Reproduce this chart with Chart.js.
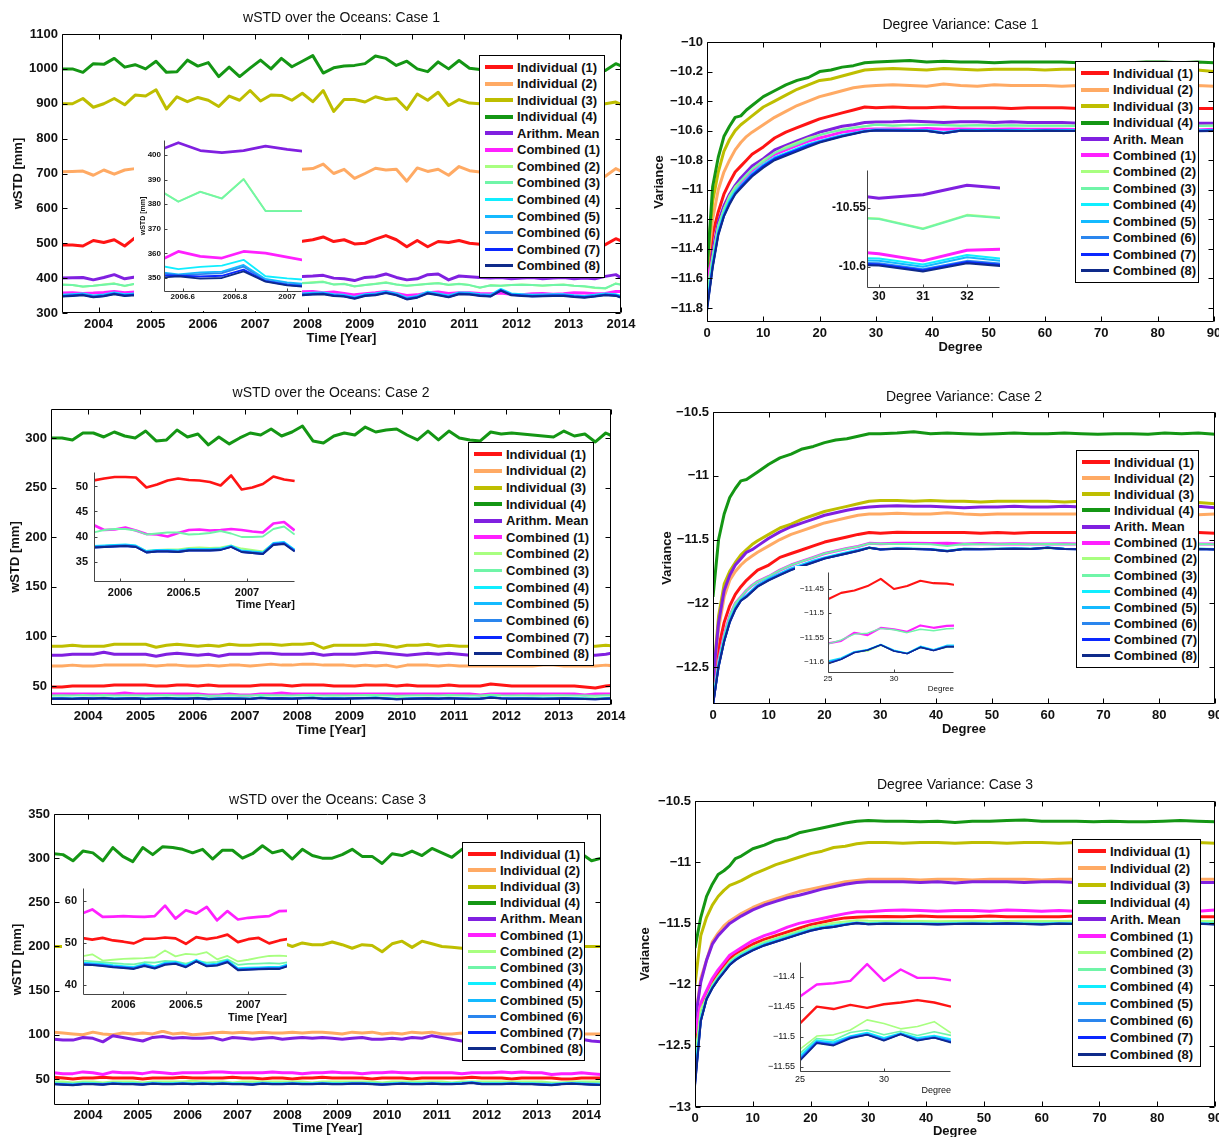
<!DOCTYPE html>
<html>
<head>
<meta charset="utf-8">
<title>wSTD over the Oceans / Degree Variance</title>
<script src="https://cdn.jsdelivr.net/npm/chart.js@4.4.1/dist/chart.umd.min.js"></script>
<style>
html, body { margin: 0; padding: 0; overflow: hidden; background: #fff; }
body { position: relative; width: 1219px; height: 1137px; }
</style>
</head>
<body>
<script>
// ---------- data ----------
const NAMES_L = ['Individual (1)', 'Individual (2)', 'Individual (3)', 'Individual (4)', 'Arithm. Mean',
    'Combined (1)', 'Combined (2)', 'Combined (3)', 'Combined (4)', 'Combined (5)', 'Combined (6)', 'Combined (7)', 'Combined (8)'];
const NAMES_R = ['Individual (1)', 'Individual (2)', 'Individual (3)', 'Individual (4)', 'Arith. Mean',
    'Combined (1)', 'Combined (2)', 'Combined (3)', 'Combined (4)', 'Combined (5)', 'Combined (6)', 'Combined (7)', 'Combined (8)'];

const tYears = [2003.3, 2003.5, 2003.7, 2003.9, 2004.1, 2004.3, 2004.5, 2004.7,
    2004.9, 2005.1, 2005.3, 2005.5, 2005.7, 2005.9, 2006.1, 2006.3,
    2006.5, 2006.7, 2006.9, 2007.1, 2007.3, 2007.5, 2007.7, 2007.9,
    2008.1, 2008.3, 2008.5, 2008.7, 2008.9, 2009.1, 2009.3, 2009.5,
    2009.7, 2009.9, 2010.1, 2010.3, 2010.5, 2010.7, 2010.9, 2011.1,
    2011.3, 2011.5, 2011.7, 2011.9, 2012.1, 2012.3, 2012.5, 2012.7,
    2012.9, 2013.1, 2013.3, 2013.5, 2013.7, 2013.9, 2014.1, 2014.3];
const dDeg = [0, 1, 2, 3, 4, 5, 6, 7, 8, 10, 12, 14, 16, 18, 20, 22, 24, 26, 28, 30,
    33, 36, 39, 42, 45, 48, 51, 54, 57, 60, 63, 66, 69, 72, 75, 78, 81, 84, 87, 90];

const yearTicks = [2004, 2005, 2006, 2007, 2008, 2009, 2010, 2011, 2012, 2013, 2014];
const degTicks = [0, 10, 20, 30, 40, 50, 60, 70, 80, 90];
const ts1YTicks = [300, 400, 500, 600, 700, 800, 900, 1000, 1100];
const ts2YTicks = [50, 100, 150, 200, 250, 300];
const ts3YTicks = [50, 100, 150, 200, 250, 300, 350];
const dv1YTicks = [-10, -10.2, -10.4, -10.6, -10.8, -11, -11.2, -11.4, -11.6, -11.8];
const dv2YTicks = [-10.5, -11, -11.5, -12, -12.5];
const dv3YTicks = [-10.5, -11, -11.5, -12, -12.5, -13];

// wSTD case 1
const ts1Ind1 = [495,495,492,508,502,510,492,516, 516,505,500,504,498,506,500,504, 498,502,500,504,500,502,504,506, 510,518,505,510,498,500,512,522, 510,490,508,490,505,502,508,500, 497,500,498,496,500,498,500,496, 498,500,495,497,496,513,500,500];
const ts1Ind2 = [705,706,707,695,710,698,710,714, 712,708,700,710,704,700,708,712, 705,702,708,710,704,700,708,712, 714,727,700,712,686,700,715,710, 712,678,716,706,712,695,720,708, 704,700,706,702,708,704,700,706, 702,705,700,703,692,714,700,700];
const ts1Ind3 = [900,900,915,890,900,915,897,925, 922,940,885,920,906,918,910,892, 922,910,938,908,925,924,910,930, 906,938,878,912,912,905,920,912, 915,884,928,910,933,895,912,902, 900,905,898,902,899,904,900,897, 902,899,903,900,900,905,892,895];
const ts1Ind4 = [1000,1000,990,1015,1013,1030,1005,1012, 1000,1022,990,992,1025,1008,1018,978, 1005,978,1002,1025,1000,1030,1006,1022, 1038,988,1003,1008,1010,1015,1037,1030, 1010,1022,1000,992,1020,1000,1024,1002, 998,1004,995,1003,1000,1005,998,1002, 996,1003,998,994,995,1015,1002,1000];
const ts1Mean = [400,401,402,395,402,410,398,403, 402,400,404,400,402,405,400,402, 400,402,398,400,402,404,400,405, 406,408,400,398,393,402,404,412, 402,395,398,410,412,395,406,404, 402,400,402,398,400,402,398,400, 402,398,400,398,405,410,392,390];
const ts1C1 = [357,358,356,357,359,362,358,360, 358,360,358,359,360,358,359,360, 361,360,361,360,359,358,360,361, 362,358,360,356,352,355,358,362, 356,350,352,358,360,356,358,358, 356,355,357,354,352,355,356,354, 355,358,357,355,356,362,362,360];
const ts1C2 = [382,380,375,378,382,385,377,384, 380,382,384,380,378,382,380,380, 382,380,384,380,382,385,380,386, 388,390,382,384,376,380,384,388, 382,378,380,384,386,380,384,380, 372,380,378,380,382,380,378,380, 382,378,376,372,370,385,378,378];
const ts1C3 = [381,380,376,378,381,384,378,384, 380,381,383,380,379,381,380,381, 382,380,383,380,382,384,380,385, 387,389,382,383,377,380,383,387, 382,378,381,383,385,381,383,380, 373,379,378,380,381,380,379,380, 381,378,377,373,371,384,378,378];
const ts1C4 = [352,354,356,350,353,359,354,356, 354,355,354,354,355,354,354,355, 356,358,354,354,353,353,354,356, 358,359,354,352,346,354,356,362, 356,344,349,361,356,350,359,358, 354,352,369,356,354,352,353,354, 354,351,349,352,356,354,344,344];
const ts1C5 = [350,352,354,348,351,357,352,354, 352,353,352,352,353,352,352,353, 354,356,352,352,351,351,352,354, 356,357,352,350,344,352,354,360, 354,342,347,359,354,348,357,356, 352,350,367,354,352,350,351,352, 352,349,347,350,354,352,342,342];
const ts1C6 = [349,351,353,348,350,356,351,353, 351,352,351,352,352,351,352,352, 353,355,351,351,350,350,351,353, 355,356,351,349,343,351,353,359, 353,341,346,358,353,347,356,355, 351,349,366,353,351,349,350,351, 351,348,346,349,353,351,341,341];
const ts1C7 = [348,350,352,346,349,355,350,352, 350,351,350,350,351,350,350,351, 351,353,350,350,349,349,350,352, 354,355,350,348,342,350,352,358, 352,340,345,357,352,346,355,354, 350,348,365,352,350,348,349,350, 350,347,345,348,352,350,340,340];
const ts1C8 = [347,349,351,345,348,354,349,351, 349,350,349,349,350,349,349,350, 350,352,349,349,348,348,349,351, 353,354,349,347,341,349,351,357, 351,339,344,356,351,345,354,353, 349,347,364,351,349,347,348,349, 349,346,344,347,351,349,339,339];

// wSTD case 2
const ts2Ind1 = [49,49,50,50,50,50,51,51, 51,51,50,50,51,51,50,51, 50,50,50,50,51,51,51,50, 51,51,51,50,50,50,51,51, 51,50,51,50,50,50,51,50, 50,50,52,51,50,50,50,50, 50,50,50,49,48,50,51,51];
const ts2Ind2 = [70,70,71,70,70,71,71,71, 71,71,70,71,71,70,70,71, 70,71,71,70,71,72,71,71, 72,72,71,71,71,70,71,70, 71,69,71,71,71,70,71,70, 70,70,70,70,70,70,70,71, 71,70,70,70,70,71,70,70];
const ts2Ind3 = [90,90,91,90,90,90,92,92, 92,92,89,91,92,91,90,91, 90,92,91,91,92,92,91,92, 92,93,88,91,91,91,91,92, 91,89,91,91,92,90,91,90, 90,91,90,91,91,90,90,91, 90,92,91,90,90,91,90,90];
const ts2Ind4 = [300,300,298,305,305,301,306,302, 300,307,297,298,308,301,304,293, 301,294,300,305,303,309,302,306, 312,297,295,302,305,303,311,306, 308,309,303,298,307,298,307,300, 298,297,306,304,305,304,303,302, 301,307,302,304,296,305,300,300];
const ts2Mean = [81,81,82,82,82,84,82,82, 82,82,80,82,83,82,81,82, 80,82,82,82,83,83,82,82, 82,83,81,82,82,82,83,84, 83,82,81,82,83,82,83,82, 81,82,81,82,82,81,81,81, 82,82,81,81,81,82,84,82];
const ts2C1 = [42,42,42,42,42,42,42,43, 42,42,42,42,42,42,42,41, 41,42,41,41,42,42,43,42, 42,42,42,42,42,42,42,42, 42,42,42,42,42,42,42,42, 42,41,42,42,42,42,42,42, 42,42,42,41,42,42,42,42];
const ts2C2 = [38,38.2,37.8,38,38.1,38.3,37.9,38, 38.2,37.8,38,38.1,37.9,38,38.3,37.6, 37.9,38,38.1,37.7,38.4,38,38.2,37.9, 38.1,38.3,37.8,38,37.9,38.1,38.2,38.4, 38,37.6,37.8,38,38.1,37.9,38.2,38, 37.8,38,39,38.2,37.9,38,38.1,37.8, 38,38.1,37.9,37.8,37.7,38,38.2,38];
const ts2C3 = [40.5,40.6,40.4,40.8,40.5,40.9,40.3,40.6, 40.7,40.4,40.6,40.8,40.5,40.4,40.9,40.2, 40.5,40.6,40.4,40.3,41,40.6,40.7,40.5, 40.8,41,40.4,40.6,40.5,40.7,40.8,41, 40.6,40.2,40.4,40.6,40.7,40.5,40.8,40.6, 40.4,40.5,41.2,40.7,40.5,40.6,40.5,40.4, 40.6,40.7,40.5,40.3,40.2,40.6,40.8,40.6];
const ts2C4 = [37.5,37.7,37.4,37.9,37.7,38.1,37.4,37.7, 37.9,37.3,37.7,38,37.5,37.6,38.1,37.2, 37.5,37.7,37.6,37.3,38.3,37.7,37.9,37.5, 38,38.3,37.5,37.7,37.6,37.9,38,38.3, 37.7,37.1,37.4,37.7,37.9,37.5,38.1,37.7, 37.4,37.6,38.7,37.9,37.6,37.7,37.6,37.4, 37.6,37.8,37.5,37.3,37.1,37.6,37.9,37.6];
const ts2C5 = [37.3,37.5,37.2,37.7,37.5,37.9,37.2,37.5, 37.7,37.1,37.5,37.8,37.3,37.4,37.9,37, 37.3,37.5,37.4,37.1,38.1,37.5,37.7,37.3, 37.8,38.1,37.3,37.5,37.4,37.7,37.8,38.1, 37.5,36.9,37.2,37.5,37.7,37.3,37.9,37.5, 37.2,37.4,38.5,37.7,37.4,37.5,37.4,37.2, 37.4,37.6,37.3,37.1,36.9,37.4,37.7,37.4];
const ts2C6 = [37.2,37.4,37.1,37.6,37.4,37.8,37.1,37.4, 37.6,37,37.4,37.7,37.2,37.3,37.8,36.9, 37.2,37.4,37.3,37,38,37.4,37.6,37.2, 37.7,38,37.2,37.4,37.3,37.6,37.7,38, 37.4,36.8,37.1,37.4,37.6,37.2,37.8,37.4, 37.1,37.3,38.4,37.6,37.3,37.4,37.3,37.1, 37.3,37.5,37.2,37,36.8,37.3,37.6,37.3];
const ts2C7 = [37.1,37.3,37,37.5,37.3,37.7,37,37.3, 37.5,36.9,37.3,37.6,37.1,37.2,37.7,36.8, 37.1,37.3,37.2,36.9,37.9,37.3,37.5,37.1, 37.6,37.9,37.1,37.3,37.2,37.5,37.6,37.9, 37.3,36.7,37,37.3,37.5,37.1,37.7,37.3, 37,37.2,38.3,37.5,37.2,37.3,37.2,37, 37.2,37.4,37.1,36.9,36.7,37.2,37.5,37.2];
const ts2C8 = [37,37.2,36.9,37.4,37.2,37.6,36.9,37.2, 37.4,36.8,37.2,37.5,37,37.1,37.6,36.7, 37,37.2,37.1,36.8,37.8,37.2,37.4,37, 37.5,37.8,37,37.2,37.1,37.4,37.5,37.8, 37.2,36.6,36.9,37.2,37.4,37,37.6,37.2, 36.9,37.1,38.2,37.4,37.1,37.2,37.1,36.9, 37.1,37.3,37,36.8,36.6,37.1,37.4,37.1];

// wSTD case 3
const ts3Ind1 = [52,51,50,51,51,52,51,51, 51,50,51,51,51,52,51,51, 51,51,52,51,51,50,51,51, 50,51,51,52,51,51,51,51, 50,51,51,51,50,51,51,51, 51,51,52,51,51,51,50,51, 51,51,51,50,50,51,51,51];
const ts3Ind2 = [103,102,101,100,103,101,100,102, 101,102,101,104,101,102,100,101, 102,103,102,103,102,103,102,102, 103,102,103,103,102,101,103,102, 103,101,102,101,103,102,103,101, 101,102,101,102,101,102,101,102, 101,101,100,101,102,101,101,101];
const ts3Ind3 = [200,200,200,201,200,199,200,201, 200,200,201,200,199,200,201,200, 200,201,200,200,201,200,201,204, 200,204,202,202,205,202,198,202, 201,194,203,206,199,206,203,200, 199,198,200,201,200,199,200,201, 200,200,199,200,201,200,200,200];
const ts3Ind4 = [305,304,297,308,306,297,312,302, 296,312,304,313,312,310,306,310, 299,309,309,300,305,314,306,309, 299,310,303,300,300,304,310,302, 302,294,305,303,308,303,311,306, 301,310,305,303,305,302,304,303, 305,303,304,302,303,305,297,300];
const ts3Mean = [95,94,94,97,96,92,99,97, 95,93,97,98,96,97,96,96, 97,94,97,96,95,96,97,95, 96,97,96,97,96,95,96,97, 95,95,96,95,97,96,99,97, 95,93,94,95,96,95,96,95, 96,95,94,96,96,95,93,92];
const ts3C1 = [57,56,56,58,57,55,58,57, 57,56,58,57,56,57,57,57, 58,58,57,57,57,57,58,57, 57,56,57,57,58,57,57,56, 57,57,58,57,57,57,57,57, 57,56,57,57,57,58,57,58, 57,57,55,56,56,57,56,55];
const ts3C2 = [47,47,46,47,47,46,47,47, 47,46,47,47,47,47,48,47, 47,47,46,47,47,47,47,47, 47,47,46,47,47,47,47,47, 47,46,47,47,47,47,47,47, 46,47,47,47,47,47,47,47, 47,47,46,46,47,47,47,47];
const ts3C3 = [46,45.5,45,46,45.5,45,46,45.5, 45.5,45,46,45.5,45.5,46,45.5,46, 45.5,46,45.5,45.5,45,46,45.5,45.5, 46,45.5,45.5,46,45.5,45.5,46,46, 45.5,45,45.5,46,45.5,45.5,46,45.5, 45.5,46,46.5,45.5,45.5,45.5,46,45.5, 45.5,45.5,45,45.5,45.5,46,45.5,45];
const ts3C4 = [44.9,44.4,43.9,44.9,44.9,44.4,45.4,44.9, 44.9,44.4,45.4,44.9,44.9,45.4,44.9,45.4, 44.9,45.4,44.9,44.9,44.4,45.4,44.9,44.9, 45.4,44.9,44.9,45.4,44.9,44.9,45.4,45.4, 44.9,44.4,44.9,45.4,44.9,44.9,45.4,44.9, 44.9,45.4,46.4,44.9,44.9,44.9,45.4,44.9, 44.9,44.4,43.9,44.9,45.4,44.9,44.4,43.9];
const ts3C5 = [44.6,44.1,43.6,44.6,44.6,44.1,45.1,44.6, 44.6,44.1,45.1,44.6,44.6,45.1,44.6,45.1, 44.6,45.1,44.6,44.6,44.1,45.1,44.6,44.6, 45.1,44.6,44.6,45.1,44.6,44.6,45.1,45.1, 44.6,44.1,44.6,45.1,44.6,44.6,45.1,44.6, 44.6,45.1,46.1,44.6,44.6,44.6,45.1,44.6, 44.6,44.1,43.6,44.6,45.1,44.6,44.1,43.6];
const ts3C6 = [44.4,43.9,43.4,44.4,44.4,43.9,44.9,44.4, 44.4,43.9,44.9,44.4,44.4,44.9,44.4,44.9, 44.4,44.9,44.4,44.4,43.9,44.9,44.4,44.4, 44.9,44.4,44.4,44.9,44.4,44.4,44.9,44.9, 44.4,43.9,44.4,44.9,44.4,44.4,44.9,44.4, 44.4,44.9,45.9,44.4,44.4,44.4,44.9,44.4, 44.4,43.9,43.4,44.4,44.9,44.4,43.9,43.4];
const ts3C7 = [44.2,43.7,43.2,44.2,44.2,43.7,44.7,44.2, 44.2,43.7,44.7,44.2,44.2,44.7,44.2,44.7, 44.2,44.7,44.2,44.2,43.7,44.7,44.2,44.2, 44.7,44.2,44.2,44.7,44.2,44.2,44.7,44.7, 44.2,43.7,44.2,44.7,44.2,44.2,44.7,44.2, 44.2,44.7,45.7,44.2,44.2,44.2,44.7,44.2, 44.2,43.7,43.2,44.2,44.7,44.2,43.7,43.2];
const ts3C8 = [44,43.5,43,44,44,43.5,44.5,44, 44,43.5,44.5,44,44,44.5,44,44.5, 44,44.5,44,44,43.5,44.5,44,44, 44.5,44,44,44.5,44,44,44.5,44.5, 44,43.5,44,44.5,44,44,44.5,44, 44,44.5,45.5,44,44,44,44.5,44, 44,43.5,43,44,44.5,44,43.5,43];

// degree variance case 1
const dv1Ind1 = [-11.62,-11.3,-11.15,-11.03,-10.95,-10.88,-10.84,-10.8,-10.76,-10.71, -10.65,-10.61,-10.58,-10.55,-10.52,-10.5,-10.48,-10.46,-10.44,-10.445, -10.44,-10.445,-10.445,-10.44,-10.445,-10.445,-10.445,-10.45,-10.445,-10.445, -10.445,-10.45,-10.445,-10.45,-10.445,-10.445,-10.45,-10.445,-10.45,-10.45];
const dv1Ind2 = [-11.55,-11.2,-11.0,-10.88,-10.8,-10.73,-10.68,-10.64,-10.61,-10.56, -10.51,-10.47,-10.43,-10.4,-10.37,-10.35,-10.33,-10.31,-10.3,-10.295, -10.29,-10.295,-10.3,-10.285,-10.295,-10.3,-10.29,-10.295,-10.295,-10.295, -10.3,-10.295,-10.3,-10.295,-10.3,-10.295,-10.295,-10.3,-10.295,-10.3];
const dv1Ind3 = [-11.5,-11.08,-10.88,-10.74,-10.66,-10.6,-10.56,-10.53,-10.5,-10.44, -10.4,-10.36,-10.32,-10.29,-10.26,-10.25,-10.23,-10.21,-10.19,-10.185, -10.18,-10.185,-10.19,-10.18,-10.185,-10.19,-10.185,-10.185,-10.185,-10.19, -10.185,-10.185,-10.19,-10.185,-10.19,-10.185,-10.19,-10.185,-10.19,-10.2];
const dv1Ind4 = [-11.55,-10.98,-10.78,-10.64,-10.57,-10.51,-10.5,-10.46,-10.43,-10.37, -10.33,-10.29,-10.26,-10.24,-10.2,-10.19,-10.17,-10.16,-10.14,-10.135, -10.13,-10.125,-10.135,-10.13,-10.135,-10.135,-10.14,-10.135,-10.135,-10.135, -10.135,-10.14,-10.14,-10.14,-10.14,-10.135,-10.135,-10.14,-10.135,-10.14];
const dv1Mean = [-11.72,-11.42,-11.22,-11.11,-11.03,-10.97,-10.92,-10.88,-10.84,-10.79, -10.73,-10.7,-10.67,-10.64,-10.61,-10.59,-10.57,-10.56,-10.545,-10.542, -10.54,-10.535,-10.54,-10.545,-10.54,-10.54,-10.545,-10.54,-10.545,-10.545, -10.545,-10.55,-10.545,-10.545,-10.545,-10.545,-10.55,-10.545,-10.55,-10.55];
const dv1C1 = [-11.6,-11.47,-11.26,-11.14,-11.05,-10.99,-10.95,-10.91,-10.87,-10.81, -10.76,-10.73,-10.7,-10.67,-10.65,-10.63,-10.61,-10.6,-10.59,-10.588, -10.588,-10.59,-10.585,-10.59,-10.588,-10.59,-10.59,-10.588,-10.59,-10.59, -10.59,-10.592,-10.59,-10.59,-10.592,-10.59,-10.592,-10.59,-10.595,-10.59];
const dv1C2 = [-11.7,-11.45,-11.24,-11.13,-11.04,-10.98,-10.94,-10.9,-10.86,-10.8, -10.75,-10.71,-10.68,-10.65,-10.63,-10.61,-10.59,-10.58,-10.57,-10.559, -10.565,-10.56,-10.56,-10.562,-10.565,-10.562,-10.565,-10.563,-10.565,-10.565, -10.565,-10.567,-10.565,-10.565,-10.567,-10.565,-10.567,-10.565,-10.567,-10.565];
const dv1C3 = [-11.72,-11.46,-11.25,-11.13,-11.05,-10.99,-10.94,-10.9,-10.86,-10.81, -10.75,-10.72,-10.69,-10.66,-10.63,-10.61,-10.595,-10.58,-10.57,-10.56, -10.566,-10.561,-10.562,-10.563,-10.566,-10.563,-10.566,-10.564,-10.566,-10.566, -10.566,-10.568,-10.566,-10.566,-10.568,-10.566,-10.568,-10.566,-10.568,-10.566];
const dv1C4 = [-11.78,-11.5,-11.28,-11.16,-11.07,-11.01,-10.97,-10.93,-10.89,-10.83, -10.78,-10.75,-10.72,-10.69,-10.67,-10.65,-10.63,-10.615,-10.6,-10.593, -10.594,-10.595,-10.596,-10.612,-10.595,-10.596,-10.595,-10.596,-10.597,-10.595, -10.596,-10.597,-10.596,-10.595,-10.597,-10.596,-10.597,-10.596,-10.598,-10.596];
const dv1C5 = [-11.8,-11.51,-11.29,-11.17,-11.08,-11.02,-10.975,-10.935,-10.895,-10.835, -10.785,-10.755,-10.725,-10.695,-10.672,-10.652,-10.632,-10.618,-10.602,-10.595, -10.596,-10.597,-10.598,-10.614,-10.597,-10.598,-10.597,-10.598,-10.599,-10.597, -10.598,-10.599,-10.598,-10.597,-10.599,-10.598,-10.599,-10.598,-10.6,-10.598];
const dv1C6 = [-11.8,-11.52,-11.3,-11.17,-11.09,-11.02,-10.98,-10.94,-10.9,-10.84, -10.79,-10.76,-10.73,-10.7,-10.675,-10.655,-10.635,-10.62,-10.604,-10.597, -10.598,-10.599,-10.6,-10.616,-10.599,-10.6,-10.599,-10.6,-10.601,-10.599, -10.6,-10.601,-10.6,-10.599,-10.601,-10.6,-10.601,-10.6,-10.602,-10.6];
const dv1C7 = [-11.81,-11.52,-11.3,-11.18,-11.09,-11.03,-10.98,-10.94,-10.9,-10.84, -10.79,-10.76,-10.73,-10.7,-10.677,-10.657,-10.637,-10.621,-10.605,-10.598, -10.599,-10.6,-10.601,-10.617,-10.6,-10.601,-10.6,-10.601,-10.602,-10.6, -10.601,-10.602,-10.601,-10.6,-10.602,-10.601,-10.602,-10.601,-10.603,-10.601];
const dv1C8 = [-11.82,-11.53,-11.31,-11.18,-11.1,-11.03,-10.99,-10.95,-10.91,-10.85, -10.8,-10.77,-10.74,-10.71,-10.68,-10.66,-10.64,-10.622,-10.606,-10.599, -10.6,-10.601,-10.602,-10.618,-10.601,-10.602,-10.601,-10.602,-10.603,-10.601, -10.602,-10.603,-10.602,-10.601,-10.603,-10.602,-10.603,-10.602,-10.604,-10.602];

// degree variance case 2
const dv2Ind1 = [-12.7,-12.35,-12.15,-12.02,-11.93,-11.87,-11.82,-11.78,-11.74,-11.7, -11.64,-11.61,-11.58,-11.55,-11.52,-11.5,-11.48,-11.46,-11.445,-11.45, -11.443,-11.445,-11.445,-11.445,-11.445,-11.45,-11.445,-11.45,-11.445,-11.445, -11.445,-11.445,-11.445,-11.45,-11.445,-11.445,-11.45,-11.445,-11.445,-11.45];
const dv2Ind2 = [-12.6,-12.2,-11.95,-11.82,-11.75,-11.7,-11.66,-11.63,-11.6,-11.55, -11.5,-11.46,-11.43,-11.4,-11.37,-11.35,-11.33,-11.31,-11.3,-11.3, -11.295,-11.3,-11.3,-11.29,-11.3,-11.305,-11.3,-11.3,-11.3,-11.3, -11.3,-11.3,-11.305,-11.3,-11.3,-11.3,-11.3,-11.3,-11.305,-11.3];
const dv2Ind3 = [-12.6,-12.1,-11.85,-11.75,-11.68,-11.62,-11.58,-11.54,-11.51,-11.46, -11.41,-11.38,-11.34,-11.31,-11.28,-11.26,-11.24,-11.22,-11.2,-11.195, -11.195,-11.2,-11.195,-11.2,-11.2,-11.205,-11.2,-11.2,-11.2,-11.2, -11.205,-11.2,-11.2,-11.205,-11.2,-11.205,-11.2,-11.205,-11.21,-11.22];
const dv2Ind4 = [-11.95,-11.5,-11.3,-11.17,-11.1,-11.04,-11.03,-11.0,-10.97,-10.91, -10.86,-10.83,-10.79,-10.77,-10.74,-10.72,-10.71,-10.69,-10.67,-10.67, -10.665,-10.655,-10.67,-10.665,-10.67,-10.675,-10.67,-10.665,-10.67,-10.67, -10.665,-10.67,-10.675,-10.67,-10.67,-10.675,-10.665,-10.67,-10.665,-10.675];
const dv2Mean = [-12.6,-12.15,-11.9,-11.78,-11.7,-11.65,-11.6,-11.58,-11.55,-11.49, -11.44,-11.4,-11.37,-11.34,-11.31,-11.29,-11.27,-11.255,-11.245,-11.24, -11.235,-11.24,-11.24,-11.245,-11.25,-11.245,-11.245,-11.24,-11.245,-11.245, -11.24,-11.245,-11.245,-11.24,-11.245,-11.245,-11.24,-11.245,-11.24,-11.25];
const dv2C1 = [-12.78,-12.45,-12.25,-12.1,-12.0,-11.95,-11.9,-11.86,-11.83,-11.79, -11.74,-11.7,-11.67,-11.64,-11.61,-11.59,-11.57,-11.555,-11.53,-11.533, -11.53,-11.53,-11.532,-11.53,-11.535,-11.532,-11.535,-11.533,-11.535,-11.535, -11.533,-11.535,-11.533,-11.535,-11.535,-11.533,-11.535,-11.533,-11.535,-11.535];
const dv2C2 = [-12.79,-12.49,-12.29,-12.14,-12.04,-11.97,-11.94,-11.9,-11.86,-11.81, -11.77,-11.73,-11.7,-11.67,-11.645,-11.625,-11.605,-11.585,-11.566,-11.575, -11.57,-11.572,-11.575,-11.588,-11.572,-11.574,-11.572,-11.57,-11.572,-11.566, -11.572,-11.574,-11.572,-11.57,-11.574,-11.572,-11.57,-11.574,-11.572,-11.575];
const dv2C3 = [-12.75,-12.45,-12.25,-12.1,-12.0,-11.95,-11.9,-11.86,-11.83,-11.79, -11.74,-11.7,-11.67,-11.64,-11.61,-11.59,-11.57,-11.555,-11.531,-11.534, -11.536,-11.535,-11.537,-11.55,-11.536,-11.538,-11.537,-11.536,-11.537,-11.535, -11.537,-11.538,-11.536,-11.537,-11.538,-11.536,-11.537,-11.538,-11.536,-11.538];
const dv2C4 = [-12.78,-12.48,-12.28,-12.13,-12.03,-11.97,-11.935,-11.895,-11.855,-11.805, -11.765,-11.725,-11.695,-11.665,-11.64,-11.62,-11.6,-11.58,-11.563,-11.576, -11.57,-11.572,-11.575,-11.589,-11.572,-11.574,-11.572,-11.57,-11.572,-11.562, -11.572,-11.574,-11.572,-11.57,-11.574,-11.572,-11.57,-11.574,-11.572,-11.575];
const dv2C5 = [-12.79,-12.49,-12.29,-12.14,-12.04,-11.975,-11.94,-11.9,-11.86,-11.81, -11.77,-11.73,-11.7,-11.67,-11.645,-11.625,-11.605,-11.585,-11.564,-11.577, -11.571,-11.573,-11.576,-11.59,-11.573,-11.575,-11.573,-11.571,-11.573,-11.563, -11.573,-11.575,-11.573,-11.571,-11.575,-11.573,-11.571,-11.575,-11.573,-11.576];
const dv2C6 = [-12.79,-12.49,-12.3,-12.14,-12.04,-11.978,-11.945,-11.905,-11.865,-11.815, -11.775,-11.735,-11.705,-11.675,-11.647,-11.627,-11.607,-11.587,-11.564,-11.577, -11.572,-11.574,-11.577,-11.591,-11.574,-11.576,-11.574,-11.572,-11.574,-11.564, -11.574,-11.576,-11.574,-11.572,-11.576,-11.574,-11.572,-11.576,-11.574,-11.577];
const dv2C7 = [-12.8,-12.5,-12.3,-12.15,-12.05,-11.98,-11.948,-11.908,-11.868,-11.818, -11.778,-11.738,-11.708,-11.678,-11.649,-11.629,-11.609,-11.589,-11.565,-11.578, -11.573,-11.575,-11.578,-11.592,-11.575,-11.577,-11.575,-11.573,-11.575,-11.565, -11.575,-11.577,-11.575,-11.573,-11.577,-11.575,-11.573,-11.577,-11.575,-11.578];
const dv2C8 = [-12.8,-12.5,-12.3,-12.15,-12.05,-11.98,-11.95,-11.91,-11.87,-11.82, -11.78,-11.74,-11.71,-11.68,-11.65,-11.63,-11.61,-11.59,-11.565,-11.578, -11.573,-11.575,-11.578,-11.592,-11.575,-11.577,-11.575,-11.573,-11.575,-11.565, -11.575,-11.577,-11.575,-11.573,-11.577,-11.575,-11.573,-11.577,-11.575,-11.578];

// degree variance case 3
const dv3Ind1 = [-12.45,-12.2,-12.08,-11.98,-11.91,-11.85,-11.79,-11.75,-11.72,-11.67, -11.63,-11.6,-11.57,-11.54,-11.51,-11.49,-11.47,-11.455,-11.45,-11.446, -11.443,-11.445,-11.44,-11.445,-11.445,-11.445,-11.44,-11.445,-11.445,-11.445, -11.445,-11.44,-11.445,-11.445,-11.445,-11.445,-11.44,-11.445,-11.445,-11.445];
const dv3Ind2 = [-12.3,-11.95,-11.8,-11.65,-11.58,-11.52,-11.48,-11.45,-11.42,-11.37, -11.33,-11.3,-11.27,-11.24,-11.22,-11.2,-11.18,-11.16,-11.15,-11.14, -11.14,-11.14,-11.145,-11.14,-11.14,-11.145,-11.14,-11.14,-11.14,-11.145, -11.14,-11.14,-11.14,-11.145,-11.14,-11.14,-11.14,-11.145,-11.14,-11.14];
const dv3Ind3 = [-12.0,-11.6,-11.45,-11.35,-11.28,-11.23,-11.19,-11.17,-11.15,-11.1, -11.06,-11.02,-10.99,-10.96,-10.93,-10.91,-10.88,-10.87,-10.85,-10.84, -10.84,-10.845,-10.84,-10.84,-10.845,-10.84,-10.84,-10.845,-10.84,-10.84, -10.845,-10.84,-10.845,-10.84,-10.84,-10.845,-10.84,-10.845,-10.84,-10.845];
const dv3Ind4 = [-11.7,-11.45,-11.28,-11.18,-11.1,-11.07,-11.03,-10.97,-10.95,-10.89, -10.86,-10.82,-10.8,-10.76,-10.74,-10.72,-10.7,-10.68,-10.665,-10.66, -10.665,-10.665,-10.67,-10.665,-10.675,-10.665,-10.665,-10.66,-10.655,-10.665, -10.665,-10.665,-10.67,-10.665,-10.67,-10.67,-10.665,-10.66,-10.665,-10.67];
const dv3Mean = [-12.3,-11.98,-11.8,-11.67,-11.6,-11.55,-11.5,-11.47,-11.44,-11.39, -11.35,-11.32,-11.29,-11.27,-11.245,-11.22,-11.2,-11.18,-11.165,-11.16, -11.16,-11.16,-11.165,-11.16,-11.17,-11.16,-11.16,-11.16,-11.165,-11.16, -11.16,-11.165,-11.16,-11.16,-11.16,-11.165,-11.16,-11.16,-11.165,-11.165];
const dv3C1 = [-12.4,-12.15,-12.05,-11.95,-11.88,-11.82,-11.76,-11.73,-11.7,-11.64, -11.6,-11.57,-11.53,-11.5,-11.48,-11.46,-11.44,-11.42,-11.405,-11.405, -11.395,-11.39,-11.395,-11.4,-11.395,-11.395,-11.4,-11.39,-11.395,-11.4, -11.395,-11.4,-11.395,-11.395,-11.4,-11.395,-11.4,-11.395,-11.4,-11.39];
const dv3C2 = [-12.6,-12.2,-12.1,-12.0,-11.93,-11.87,-11.81,-11.77,-11.74,-11.69, -11.65,-11.62,-11.59,-11.56,-11.53,-11.51,-11.495,-11.485,-11.474,-11.478, -11.48,-11.478,-11.48,-11.482,-11.48,-11.478,-11.48,-11.48,-11.478,-11.48, -11.48,-11.478,-11.48,-11.48,-11.482,-11.48,-11.478,-11.48,-11.48,-11.48];
const dv3C3 = [-12.7,-12.25,-12.11,-12.01,-11.94,-11.88,-11.82,-11.78,-11.75,-11.7, -11.66,-11.63,-11.6,-11.57,-11.545,-11.525,-11.51,-11.5,-11.49,-11.497, -11.493,-11.495,-11.495,-11.497,-11.495,-11.493,-11.495,-11.495,-11.493,-11.495, -11.495,-11.493,-11.495,-11.495,-11.497,-11.495,-11.493,-11.495,-11.495,-11.495];
const dv3C4 = [-12.75,-12.28,-12.115,-12.02,-11.95,-11.89,-11.83,-11.79,-11.76,-11.71, -11.67,-11.64,-11.61,-11.58,-11.552,-11.532,-11.52,-11.505,-11.494,-11.502, -11.498,-11.5,-11.5,-11.503,-11.5,-11.498,-11.5,-11.496,-11.5,-11.503, -11.498,-11.5,-11.5,-11.498,-11.5,-11.5,-11.496,-11.5,-11.498,-11.503];
const dv3C5 = [-12.78,-12.29,-12.117,-12.025,-11.955,-11.895,-11.835,-11.795,-11.765,-11.715, -11.675,-11.645,-11.615,-11.585,-11.555,-11.535,-11.524,-11.508,-11.495,-11.504, -11.5,-11.502,-11.502,-11.505,-11.502,-11.5,-11.502,-11.498,-11.502,-11.505, -11.5,-11.502,-11.502,-11.5,-11.502,-11.502,-11.498,-11.502,-11.5,-11.505];
const dv3C6 = [-12.8,-12.295,-12.118,-12.027,-11.957,-11.897,-11.837,-11.797,-11.767,-11.717, -11.677,-11.647,-11.617,-11.587,-11.557,-11.537,-11.526,-11.51,-11.496,-11.505, -11.501,-11.503,-11.503,-11.506,-11.503,-11.501,-11.503,-11.499,-11.503,-11.506, -11.501,-11.503,-11.503,-11.501,-11.503,-11.503,-11.499,-11.503,-11.501,-11.506];
const dv3C7 = [-12.82,-12.3,-12.12,-12.03,-11.96,-11.9,-11.84,-11.8,-11.77,-11.72, -11.68,-11.65,-11.62,-11.59,-11.56,-11.54,-11.53,-11.511,-11.497,-11.506, -11.502,-11.504,-11.504,-11.507,-11.504,-11.502,-11.504,-11.5,-11.504,-11.507, -11.502,-11.504,-11.504,-11.502,-11.504,-11.504,-11.5,-11.504,-11.502,-11.507];
const dv3C8 = [-12.83,-12.3,-12.12,-12.03,-11.96,-11.9,-11.84,-11.8,-11.77,-11.72, -11.68,-11.65,-11.62,-11.59,-11.56,-11.54,-11.53,-11.512,-11.498,-11.507, -11.503,-11.505,-11.505,-11.508,-11.505,-11.503,-11.505,-11.5,-11.505,-11.508, -11.503,-11.505,-11.505,-11.503,-11.505,-11.505,-11.5,-11.505,-11.503,-11.508];

// zoomed insets
const insAx = [2006.5, 2006.583, 2006.667, 2006.75, 2006.833, 2006.917, 2007, 2007.083];
const insAMean = [401.5, 405.0, 401.8, 401.0, 401.8, 403.6, 402.3, 401.2];
const insAC1 = [356.5, 360.8, 358.8, 358.1, 360.8, 360.1, 358.5, 356.8];
const insAC2 = [386.5, 381.1, 385.1, 382.4, 390.3, 377.3, 377.3, 377.3];
const insAC3 = [386.3, 381.0, 385.0, 382.3, 390.1, 377.2, 377.2, 377.2];
const insAC4 = [355.2, 353.6, 354.5, 355.0, 357.4, 350.7, 349.8, 349.2];
const insAC5 = [352.5, 351.5, 352.3, 352.6, 355.3, 349.6, 348.2, 347.4];
const insAC6 = [352.2, 351.1, 351.6, 352.0, 354.6, 349.0, 347.6, 346.8];
const insAC7 = [351.2, 350.9, 350.6, 350.9, 353.4, 348.7, 347.2, 346.5];
const insAC8 = [350.0, 350.7, 349.7, 350.0, 352.7, 348.5, 347.0, 346.3];

const insBx = [29, 30, 31, 32, 33];
const insBMean = [-10.537, -10.542, -10.539, -10.531, -10.534];
const insBC1 = [-10.586, -10.589, -10.595, -10.586, -10.585];
const insBC2 = [-10.558, -10.559, -10.5675, -10.556, -10.559];
const insBC3 = [-10.558, -10.5595, -10.568, -10.5565, -10.5595];
const insBC4 = [-10.592, -10.593, -10.598, -10.59, -10.594];
const insBC5 = [-10.594, -10.595, -10.6, -10.592, -10.596];
const insBC6 = [-10.596, -10.597, -10.602, -10.595, -10.598];
const insBC7 = [-10.597, -10.598, -10.603, -10.596, -10.599];
const insBC8 = [-10.598, -10.599, -10.604, -10.597, -10.6];

const insCx = [2005.792, 2005.875, 2005.958, 2006.042, 2006.125, 2006.208, 2006.292, 2006.375, 2006.458, 2006.542,
    2006.625, 2006.708, 2006.792, 2006.875, 2006.958, 2007.042, 2007.125, 2007.208, 2007.292, 2007.375];
const insCInd1 = [51.2,51.6,51.9,51.9,51.8,49.8,50.4,51.2,51.6,51.3, 51.2,50.9,50.2,52.2,49.4,49.8,50.5,52.0,51.4,51.1];
const insCC1 = [42.3,41.3,41.4,41.8,41.2,40.5,40.4,40.0,40.7,41.3, 41.4,41.2,41.3,41.5,41.3,41.0,40.8,42.6,42.9,41.2];
const insCC2 = [38.0,38.1,38.2,38.3,38.1,37.1,37.3,37.4,37.4,37.7, 37.8,37.7,37.8,38.2,37.6,37.3,37.0,38.6,38.6,37.3];
const insCC3 = [40.8,41.3,41.5,41.5,41.2,40.4,40.6,40.8,40.8,40.4, 40.5,40.7,41.1,40.6,39.9,39.9,40.0,41.5,42.0,40.4];
const insCC4 = [38.1,38.2,38.3,38.4,38.2,37.1,37.3,37.3,37.2,37.5, 37.5,37.5,37.6,38.2,37.2,37.0,36.8,38.7,38.9,37.4];
const insCC5 = [38.0,38.1,38.2,38.3,38.1,37.0,37.2,37.2,37.1,37.4, 37.4,37.4,37.5,38.1,37.1,36.9,36.7,38.6,38.8,37.3];
const insCC6 = [37.9,38.0,38.1,38.2,38.0,36.9,37.1,37.1,37.0,37.3, 37.3,37.3,37.4,38.0,37.0,36.8,36.6,38.5,38.7,37.2];
const insCC7 = [37.8,37.9,38.0,38.1,37.9,36.8,37.0,37.0,36.9,37.2, 37.2,37.2,37.3,37.9,36.9,36.7,36.5,38.4,38.6,37.1];
const insCC8 = [37.8,37.9,38.0,38.1,37.9,36.8,37.0,37.0,36.9,37.2, 37.2,37.2,37.3,37.9,36.9,36.7,36.5,38.3,38.5,37.0];

const insDx = [25, 26, 27, 28, 29, 30, 31, 32, 33, 34, 35];
const insDInd1 = [-11.471,-11.458,-11.453,-11.444,-11.429,-11.45,-11.444,-11.433,-11.438,-11.439,-11.443];
const insDC1 = [-11.562,-11.557,-11.54,-11.545,-11.53,-11.533,-11.538,-11.525,-11.53,-11.526,-11.525];
const insDC2 = [-11.6,-11.593,-11.58,-11.578,-11.566,-11.578,-11.582,-11.571,-11.576,-11.57,-11.57];
const insDC3 = [-11.563,-11.555,-11.543,-11.541,-11.531,-11.534,-11.54,-11.533,-11.536,-11.532,-11.531];
const insDC4 = [-11.598,-11.592,-11.579,-11.575,-11.564,-11.576,-11.582,-11.568,-11.575,-11.566,-11.566];
const insDC5 = [-11.6,-11.593,-11.58,-11.575,-11.565,-11.577,-11.583,-11.569,-11.576,-11.567,-11.567];
const insDC6 = [-11.602,-11.594,-11.58,-11.576,-11.565,-11.577,-11.583,-11.57,-11.576,-11.568,-11.568];
const insDC7 = [-11.603,-11.595,-11.581,-11.576,-11.565,-11.578,-11.583,-11.57,-11.577,-11.569,-11.569];
const insDC8 = [-11.604,-11.595,-11.581,-11.576,-11.565,-11.578,-11.583,-11.57,-11.577,-11.569,-11.569];

const insEx = [2005.667, 2005.75, 2005.833, 2005.917, 2006, 2006.083, 2006.167, 2006.25, 2006.333, 2006.417, 2006.5,
    2006.583, 2006.667, 2006.75, 2006.833, 2006.917, 2007, 2007.083, 2007.167, 2007.25, 2007.333];
const insEInd1 = [51.2,50.8,51.2,50.6,50.3,49.9,51.0,51.0,51.3,51.1,49.8, 51.4,50.9,51.3,52.0,50.2,50.9,51.2,49.9,50.6,51.0];
const insEC1 = [57.0,58.0,56.2,56.3,56.4,56.3,56.2,56.4,58.9,55.8,57.8, 57.0,58.6,55.4,57.6,55.6,56.0,56.2,56.4,57.6,57.7];
const insEC2 = [46.8,47.3,45.8,46.0,46.2,46.3,46.4,46.6,48.2,46.8,47.4, 47.2,47.8,46.1,46.9,45.6,46.0,46.5,46.9,47.0,46.8];
const insEC3 = [45.8,45.6,45.4,45.2,45.0,44.9,45.4,45.3,45.7,45.6,45.1, 45.8,45.3,45.5,46.1,44.8,45.0,45.1,45.2,45.1,45.5];
const insEC4 = [45.3,45.2,45.0,44.7,44.5,44.3,45.0,44.4,45.3,45.5,44.7, 46.0,44.9,45.1,45.9,44.0,44.1,44.2,44.3,44.3,45.1];
const insEC5 = [45.1,45.0,44.8,44.5,44.3,44.1,44.8,44.2,45.1,45.3,44.5, 45.8,44.7,44.9,45.7,43.8,43.9,44.0,44.1,44.1,44.9];
const insEC6 = [45.0,44.9,44.7,44.4,44.2,44.0,44.7,44.1,45.0,45.2,44.4, 45.7,44.6,44.8,45.6,43.7,43.8,43.9,44.0,44.0,44.8];
const insEC7 = [44.9,44.8,44.6,44.3,44.1,43.9,44.6,44.0,44.9,45.1,44.3, 45.6,44.5,44.7,45.5,43.6,43.7,43.8,43.9,43.9,44.7];
const insEC8 = [44.8,44.7,44.5,44.2,44.0,43.8,44.5,43.9,44.8,45.0,44.2, 45.6,44.4,44.6,45.4,43.5,43.6,43.7,43.8,43.8,44.6];

const insFx = [25, 26, 27, 28, 29, 30, 31, 32, 33, 34];
const insFInd1 = [-11.478,-11.45,-11.454,-11.447,-11.452,-11.446,-11.443,-11.439,-11.443,-11.45];
const insFC1 = [-11.433,-11.413,-11.411,-11.407,-11.379,-11.407,-11.388,-11.402,-11.402,-11.406];
const insFC2 = [-11.521,-11.499,-11.497,-11.489,-11.472,-11.478,-11.487,-11.483,-11.475,-11.494];
const insFC3 = [-11.528,-11.503,-11.506,-11.493,-11.489,-11.497,-11.491,-11.498,-11.492,-11.498];
const insFC4 = [-11.532,-11.506,-11.509,-11.499,-11.493,-11.502,-11.494,-11.502,-11.498,-11.504];
const insFC5 = [-11.535,-11.508,-11.511,-11.5,-11.495,-11.504,-11.495,-11.504,-11.5,-11.506];
const insFC6 = [-11.537,-11.509,-11.513,-11.501,-11.496,-11.505,-11.495,-11.505,-11.501,-11.508];
const insFC7 = [-11.539,-11.51,-11.514,-11.502,-11.497,-11.506,-11.496,-11.506,-11.502,-11.509];
const insFC8 = [-11.54,-11.511,-11.515,-11.503,-11.497,-11.507,-11.496,-11.507,-11.502,-11.51];

// ---------- styles ----------
const FONT = '"Liberation Sans", Arial, sans-serif';
const COLORS = ['#ff1414', '#ffaa64', '#bebe00', '#149614', '#8020e0', '#ff20ff',
    '#a8ff80', '#70f5a8', '#10eeff', '#14baff', '#2a86ee', '#0a28ff', '#0e2a8a'];
const WIDTHS = [3, 3, 3, 3, 3, 3, 2, 2, 2, 2, 2, 2, 2];
const LEG_W = [4, 4, 4, 4, 4, 4, 3, 3, 3, 3, 3, 3, 3];

const f = (size, weight) => ({family: FONT, size: size, weight: weight, lineHeight: 1.2});
const fmtNum = v => String(Math.round(v * 1000) / 1000);
const fmtMinus = v => (v < 0 ? '\u2212' : '') + String(Math.round(Math.abs(v) * 1000) / 1000);

// MATLAB-like axes box with inward ticks
const frame = {
    id: 'frame',
    afterDraw(chart, args, o) {
        const {ctx, chartArea: a} = chart;
        const xs = chart.scales.x, ys = chart.scales.y;
        const l = Math.round(a.left) + 0.5, r = Math.round(a.right) - 0.5;
        const t = Math.round(a.top) + 0.5, b = Math.round(a.bottom) - 0.5;
        ctx.save();
        ctx.strokeStyle = o.color;
        ctx.lineWidth = 1;
        ctx.beginPath();
        if (o.box) {
            ctx.rect(l, t, r - l, b - t);
        } else {
            ctx.moveTo(l, t); ctx.lineTo(l, b); ctx.lineTo(r, b);
        }
        xs.ticks.forEach(tk => {
            const p = Math.round(xs.getPixelForValue(tk.value)) + 0.5;
            ctx.moveTo(p, b); ctx.lineTo(p, b - o.tick);
            if (o.box) { ctx.moveTo(p, t); ctx.lineTo(p, t + o.tick); }
        });
        ys.ticks.forEach(tk => {
            const p = Math.round(ys.getPixelForValue(tk.value)) + 0.5;
            ctx.moveTo(l, p); ctx.lineTo(l + o.tick, p);
            if (o.box) { ctx.moveTo(r, p); ctx.lineTo(r - o.tick, p); }
        });
        ctx.stroke();
        ctx.restore();
    }
};

function addCanvas(l, t, w, h, white) {
    const d = document.createElement('div');
    d.style.cssText = 'position:absolute;left:' + l + 'px;top:' + t + 'px;width:' + w + 'px;height:' + h + 'px;' + (white ? 'background:#fff;' : '');
    const c = document.createElement('canvas');
    c.width = w; c.height = h;
    c.style.width = w + 'px'; c.style.height = h + 'px';
    d.appendChild(c);
    document.body.appendChild(d);
    return c;
}

function sets(xs, list, lw) {
    return list.map(([i, ys]) => ({
        label: NAMES_L[i],
        data: xs.map((x, k) => ({x: x, y: ys[k]})),
        borderColor: COLORS[i],
        borderWidth: WIDTHS[i] * lw,
        borderJoinStyle: 'round',
        pointRadius: 0,
        tension: 0,
        fill: false,
        order: 20 - i
    }));
}

function axis(kind, range, ticks, fmt, size, font, pad, title) {
    return {
        type: 'linear',
        min: range[0], max: range[1],
        afterBuildTicks: s => { s.ticks = ticks.map(v => ({value: v})); },
        afterFit: s => {
            if (kind === 'x') s.height = size; else s.width = size;
            s.paddingTop = 0; s.paddingBottom = 0; s.paddingLeft = 0; s.paddingRight = 0;
        },
        grid: {display: false, drawTicks: false},
        border: {display: false},
        ticks: {padding: pad, color: '#111', font: font, maxRotation: 0, autoSkip: false, callback: v => fmt(v)},
        title: title ? {display: true, text: title.text, color: '#111', font: title.font, padding: title.padding, align: title.align || 'center'} : {display: false}
    };
}

// empty right-hand axis, same width as the left one, keeps the title centred over the plot
function spacer(size) {
    return {
        type: 'linear', position: 'right', min: 0, max: 1,
        afterFit: s => { s.width = size; s.paddingTop = 0; s.paddingBottom = 0; s.paddingLeft = 0; s.paddingRight = 0; },
        grid: {display: false, drawTicks: false},
        border: {display: false},
        ticks: {display: false}
    };
}

function mainPanel(p) {
    const cl = p.L - p.ML, ct = p.T - p.MT;
    const w = p.R - p.L + 2 * p.ML, h = p.MT + (p.B - p.T) + p.MB;
    const cv = addCanvas(cl, ct, w, h, false);
    const tlh = 14 * 1.2, lh = 13 * 1.2;
    const tpt = p.titleY - ct - tlh / 2;
    new Chart(cv, {
        type: 'line',
        data: {datasets: sets(p.xs, p.ys.map((a, i) => [i, a]), 1)},
        options: {
            responsive: false,
            animation: false,
            events: [],
            layout: {padding: 0},
            plugins: {
                legend: {display: false},
                tooltip: {enabled: false},
                title: {display: true, text: p.title, color: '#111', font: f(14, 'normal'), padding: {top: tpt, bottom: p.MT - tpt - tlh}},
                frame: {box: true, tick: 5, color: '#000'}
            },
            scales: {
                x: axis('x', p.xRange, p.xTicks, fmtNum, p.MB, f(13, 'bold'), p.xTickOff - lh / 2,
                    {text: p.xlab, font: f(13, 'bold'), padding: {top: 0, bottom: p.MB - lh / 2 - p.xlabOff}}),
                y: axis('y', p.yRange, p.yTicks, p.fmt, p.ML, f(13, 'bold'), 4,
                    {text: p.ylab, font: f(13, 'bold'), padding: {top: p.ylabX - cl - lh / 2, bottom: 0}}),
                yr: spacer(p.ML)
            }
        },
        plugins: [frame]
    });
}

function insetPanel(p) {
    const cv = addCanvas(p.bx, p.by, p.bw, p.bh, true);
    const lh = p.fs * 1.2;
    new Chart(cv, {
        type: 'line',
        data: {datasets: sets(p.xs, p.list, p.lw)},
        options: {
            responsive: false,
            animation: false,
            events: [],
            layout: {padding: {left: 0, top: p.T - p.by, right: p.bx + p.bw - p.R, bottom: 0}},
            plugins: {
                legend: {display: false},
                tooltip: {enabled: false},
                title: {display: false},
                frame: {box: false, tick: 3, color: '#444'}
            },
            scales: {
                x: axis('x', p.xRange, p.xTicks, fmtNum, p.by + p.bh - p.B, f(p.fs, p.fw), p.xTickY - p.B - lh / 2,
                    p.xlab ? {text: p.xlab, font: f(p.fs, p.fw), align: 'end', padding: {top: 0, bottom: p.by + p.bh - p.xlabY - lh / 2}} : null),
                y: axis('y', p.yRange, p.yTicks, p.yfmt, p.L - p.bx, f(p.fs, p.fw), p.yPad,
                    p.ylab ? {text: p.ylab, font: f(p.fs - 1, p.fw), padding: {top: p.ylabX - p.bx - (p.fs - 1) * 0.6, bottom: 0}} : null)
            }
        },
        plugins: [frame]
    });
}

function legendBox(box, names) {
    const [l, t, w, h] = box;
    const d = document.createElement('div');
    d.style.cssText = 'position:absolute;left:' + l + 'px;top:' + t + 'px;width:' + w + 'px;height:' + h + 'px;box-sizing:border-box;border:1px solid #000;background:#fff;padding:3px 0;';
    const rh = (h - 8) / names.length;
    names.forEach((n, i) => {
        const row = document.createElement('div');
        row.style.cssText = 'height:' + rh + 'px;display:flex;align-items:center;white-space:nowrap;';
        const sw = document.createElement('span');
        sw.style.cssText = 'display:inline-block;flex:none;width:28px;height:' + LEG_W[i] + 'px;background:' + COLORS[i] + ';margin:0 4px 0 5px;';
        const tx = document.createElement('span');
        tx.textContent = n;
        tx.style.cssText = 'font:bold 13px ' + FONT + ';color:#111;';
        row.appendChild(sw);
        row.appendChild(tx);
        d.appendChild(row);
    });
    document.body.appendChild(d);
}

// ---------- main panels ----------
mainPanel({L: 62, T: 34, R: 621, B: 313, ML: 62, MT: 34, MB: 36, titleY: 18, ylabX: 18, xTickOff: 11, xlabOff: 25,
    title: 'wSTD over the Oceans: Case 1', xlab: 'Time [Year]', ylab: 'wSTD [mm]',
    xRange: [2003.3, 2014.0], yRange: [300, 1100], xTicks: yearTicks, yTicks: ts1YTicks, fmt: fmtNum, xs: tYears,
    ys: [ts1Ind1, ts1Ind2, ts1Ind3, ts1Ind4, ts1Mean, ts1C1, ts1C2, ts1C3, ts1C4, ts1C5, ts1C6, ts1C7, ts1C8]});

mainPanel({L: 707, T: 42, R: 1214, B: 322, ML: 60, MT: 42, MB: 36, titleY: 25, ylabX: 659, xTickOff: 11, xlabOff: 25,
    title: 'Degree Variance: Case 1', xlab: 'Degree', ylab: 'Variance',
    xRange: [0, 90], yRange: [-11.895, -10], xTicks: degTicks, yTicks: dv1YTicks, fmt: fmtMinus, xs: dDeg,
    ys: [dv1Ind1, dv1Ind2, dv1Ind3, dv1Ind4, dv1Mean, dv1C1, dv1C2, dv1C3, dv1C4, dv1C5, dv1C6, dv1C7, dv1C8]});

mainPanel({L: 51, T: 409, R: 611, B: 705, ML: 51, MT: 30, MB: 36, titleY: 393, ylabX: 15, xTickOff: 11, xlabOff: 25,
    title: 'wSTD over the Oceans: Case 2', xlab: 'Time [Year]', ylab: 'wSTD [mm]',
    xRange: [2003.29, 2014.0], yRange: [30.8, 329.2], xTicks: yearTicks, yTicks: ts2YTicks, fmt: fmtNum, xs: tYears,
    ys: [ts2Ind1, ts2Ind2, ts2Ind3, ts2Ind4, ts2Mean, ts2C1, ts2C2, ts2C3, ts2C4, ts2C5, ts2C6, ts2C7, ts2C8]});

mainPanel({L: 713, T: 412, R: 1215, B: 704, ML: 60, MT: 30, MB: 36, titleY: 397, ylabX: 667, xTickOff: 11, xlabOff: 25,
    title: 'Degree Variance: Case 2', xlab: 'Degree', ylab: 'Variance',
    xRange: [0, 90], yRange: [-12.79, -10.5], xTicks: degTicks, yTicks: dv2YTicks, fmt: fmtMinus, xs: dDeg,
    ys: [dv2Ind1, dv2Ind2, dv2Ind3, dv2Ind4, dv2Mean, dv2C1, dv2C2, dv2C3, dv2C4, dv2C5, dv2C6, dv2C7, dv2C8]});

mainPanel({L: 54, T: 814, R: 601, B: 1105, ML: 54, MT: 30, MB: 34, titleY: 800, ylabX: 17, xTickOff: 10, xlabOff: 23,
    title: 'wSTD over the Oceans: Case 3', xlab: 'Time [Year]', ylab: 'wSTD [mm]',
    xRange: [2003.32, 2014.29], yRange: [20.5, 350], xTicks: yearTicks, yTicks: ts3YTicks, fmt: fmtNum, xs: tYears,
    ys: [ts3Ind1, ts3Ind2, ts3Ind3, ts3Ind4, ts3Mean, ts3C1, ts3C2, ts3C3, ts3C4, ts3C5, ts3C6, ts3C7, ts3C8]});

mainPanel({L: 695, T: 801, R: 1215, B: 1107, ML: 60, MT: 30, MB: 34, titleY: 785, ylabX: 645, xTickOff: 11, xlabOff: 24,
    title: 'Degree Variance: Case 3', xlab: 'Degree', ylab: 'Variance',
    xRange: [0, 90], yRange: [-13, -10.5], xTicks: degTicks, yTicks: dv3YTicks, fmt: fmtMinus, xs: dDeg,
    ys: [dv3Ind1, dv3Ind2, dv3Ind3, dv3Ind4, dv3Mean, dv3C1, dv3C2, dv3C3, dv3C4, dv3C5, dv3C6, dv3C7, dv3C8]});

// ---------- insets ----------
insetPanel({bx: 134, by: 138, bw: 168, bh: 173, L: 164, T: 140, R: 302, B: 292, fs: 8, fw: 'bold', lw: 0.9,
    xTickY: 297, yPad: 3, ylab: 'wSTD [mm]', ylabX: 143,
    xRange: [2006.528, 2007.057], yRange: [344.3, 406.1], xTicks: [2006.6, 2006.8, 2007], yTicks: [350, 360, 370, 380, 390, 400], yfmt: fmtNum,
    xs: insAx, list: [[4, insAMean], [5, insAC1], [6, insAC2], [7, insAC3], [8, insAC4], [9, insAC5], [10, insAC6], [11, insAC7], [12, insAC8]]});

insetPanel({bx: 826, by: 166, bw: 176, bh: 140, L: 867, T: 170, R: 1000, B: 288, fs: 12, fw: 'bold', lw: 1,
    xTickY: 297, yPad: 1,
    xRange: [29.73, 32.75], yRange: [-10.618, -10.518], xTicks: [30, 31, 32], yTicks: [-10.6, -10.55], yfmt: fmtNum,
    xs: insBx, list: [[4, insBMean], [5, insBC1], [6, insBC2], [7, insBC3], [8, insBC4], [9, insBC5], [10, insBC6], [11, insBC7], [12, insBC8]]});

insetPanel({bx: 58, by: 464, bw: 239, bh: 148, L: 94, T: 472, R: 295, B: 582, fs: 11, fw: 'bold', lw: 0.9,
    xTickY: 593, yPad: 6, xlab: 'Time [Year]', xlabY: 605,
    xRange: [2005.795, 2007.378], yRange: [30.9, 52.9], xTicks: [2006, 2006.5, 2007], yTicks: [35, 40, 45, 50], yfmt: fmtNum,
    xs: insCx, list: [[0, insCInd1], [5, insCC1], [6, insCC2], [7, insCC3], [8, insCC4], [9, insCC5], [10, insCC6], [11, insCC7], [12, insCC8]]});

insetPanel({bx: 795, by: 566, bw: 161, bh: 129, L: 828, T: 572, R: 954, B: 673, fs: 8, fw: 'normal', lw: 0.7,
    xTickY: 679, yPad: 4, xlab: 'Degree', xlabY: 689,
    xRange: [25, 34.55], yRange: [-11.623, -11.415], xTicks: [25, 30], yTicks: [-11.6, -11.55, -11.5, -11.45], yfmt: fmtMinus,
    xs: insDx, list: [[0, insDInd1], [5, insDC1], [6, insDC2], [7, insDC3], [8, insDC4], [9, insDC5], [10, insDC6], [11, insDC7], [12, insDC8]]});

insetPanel({bx: 62, by: 880, bw: 225, bh: 150, L: 83, T: 888, R: 287, B: 995, fs: 11, fw: 'bold', lw: 0.9,
    xTickY: 1005, yPad: 6, xlab: 'Time [Year]', xlabY: 1018,
    xRange: [2005.676, 2007.31], yRange: [37.6, 63.1], xTicks: [2006, 2006.5, 2007], yTicks: [40, 50, 60], yfmt: fmtNum,
    xs: insEx, list: [[0, insEInd1], [5, insEC1], [6, insEC2], [7, insEC3], [8, insEC4], [9, insEC5], [10, insEC6], [11, insEC7], [12, insEC8]]});

insetPanel({bx: 760, by: 955, bw: 195, bh: 142, L: 800, T: 962, R: 951, B: 1072, fs: 9, fw: 'normal', lw: 0.8,
    xTickY: 1080, yPad: 5, xlab: 'Degree', xlabY: 1091,
    xRange: [25, 34], yRange: [-11.559, -11.3755], xTicks: [25, 30], yTicks: [-11.55, -11.5, -11.45, -11.4], yfmt: fmtMinus,
    xs: insFx, list: [[0, insFInd1], [5, insFC1], [6, insFC2], [7, insFC3], [8, insFC4], [9, insFC5], [10, insFC6], [11, insFC7], [12, insFC8]]});

// ---------- legends ----------
legendBox([479, 55, 126, 223], NAMES_L);
legendBox([1075, 61, 124, 222], NAMES_R);
legendBox([468, 442, 126, 224], NAMES_L);
legendBox([1076, 450, 123, 218], NAMES_R);
legendBox([462, 842, 123, 219], NAMES_L);
legendBox([1072, 839, 129, 228], NAMES_R);
</script>
</body>
</html>
